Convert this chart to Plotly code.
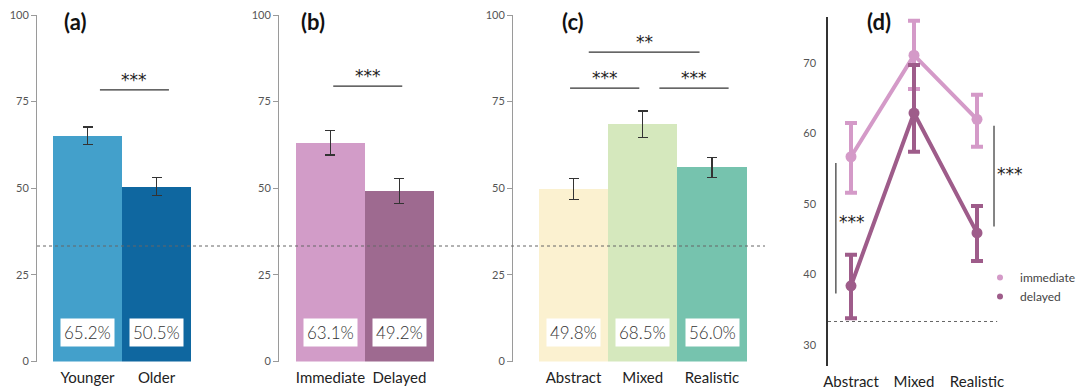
import plotly.graph_objects as go

W, H = 1077, 391

# ---------------- data ----------------
age_groups = ["Younger", "Older"]
age_acc = [65.2, 50.5]
age_err = [2.5, 2.7]
age_colors = ["#43a0cb", "#0f67a0"]

test_times = ["Immediate", "Delayed"]
time_acc = [63.1, 49.2]
time_err = [3.5, 3.5]
time_colors = ["#d29cc8", "#9e6a90"]

styles = ["Abstract", "Mixed", "Realistic"]
style_acc = [49.8, 68.5, 56.0]
style_err = [3.0, 3.8, 2.9]
style_colors = ["#fbf1d0", "#d5e8bd", "#76c3ae"]

imm_acc = [56.7, 71.1, 62.0]
imm_err_plus = [4.8, 4.9, 3.5]
imm_err_minus = [5.1, 4.8, 3.9]
del_acc = [38.4, 62.9, 45.9]
del_err_plus = [4.4, 6.8, 3.8]
del_err_minus = [4.6, 5.5, 4.0]

chance = 100 / 3

# significance brackets: (axis suffix, x0, x1, y, label)
brackets = [
    ("", 0.18, 1.18, 78.4, "***"),
    ("2", 0.04, 1.04, 79.5, "***"),
    ("3", 0.22, 1.82, 89.3, "**"),
    ("3", -0.05, 0.95, 78.9, "***"),
    ("3", 1.24, 2.24, 78.9, "***"),
]
# panel d vertical brackets: (x, y0, y1, text_x, text_y)
vbrackets = [
    (-0.24, 37.3, 55.8, 0.02, 47.9),
    (2.27, 46.8, 61.1, 2.52, 54.7),
]

FONT = "Lato, 'Open Sans', sans-serif"
STAR_FONT = "'DejaVu Sans', sans-serif"
IMM_COLOR = "#d49ac8"
DEL_COLOR = "#9e5c8a"


def px(x):
    return x / W


def py(y):
    return 1 - y / H


fig = go.Figure()

panels = [
    ("x", "y", age_groups, age_acc, age_err, age_colors),
    ("x2", "y2", test_times, time_acc, time_err, time_colors),
    ("x3", "y3", styles, style_acc, style_err, style_colors),
]
for xa, ya, cats, vals, errs, cols in panels:
    fig.add_trace(go.Bar(
        x=list(range(len(cats))), y=vals, width=1,
        marker=dict(color=cols, line=dict(width=0)),
        error_y=dict(type="data", array=errs, color="#333333", thickness=1.2, width=5),
        xaxis=xa, yaxis=ya, showlegend=False, hoverinfo="skip",
    ))
    for i, v in enumerate(vals):
        fig.add_annotation(
            x=i, y=8.5, xref=xa, yref=ya, text=f"{v:.1f}%", showarrow=False,
            font=dict(family=FONT, size=17, color="#333333", weight=300),
            bgcolor="white", borderpad=3,
        )

# panel d lines
xs = [0, 1, 2]
for name, vals, ep, em, col in [("immediate", imm_acc, imm_err_plus, imm_err_minus, IMM_COLOR),
                                ("delayed", del_acc, del_err_plus, del_err_minus, DEL_COLOR)]:
    fig.add_trace(go.Scatter(
        x=xs, y=vals, mode="lines+markers", name=name, showlegend=False,
        line=dict(color=col, width=4), marker=dict(size=11, color=col),
        error_y=dict(type="data", array=ep, arrayminus=em, color=col, thickness=4, width=6),
        xaxis="x4", yaxis="y4", hoverinfo="skip",
    ))
    # legend entry with a small symbol, like the reference
    fig.add_trace(go.Scatter(
        x=[None], y=[None], mode="markers", name=name,
        marker=dict(size=6, color=col, symbol="circle"),
        xaxis="x4", yaxis="y4", hoverinfo="skip",
    ))

# axes
yaxis_bar = dict(
    range=[0, 100], domain=[py(361.5), py(15)], tickvals=[0, 25, 50, 75, 100],
    showline=True, linecolor="#9a9a9a", linewidth=1, ticks="outside", ticklen=5,
    tickcolor="#9a9a9a", tickfont=dict(family=FONT, size=11, color="#555555"),
    showgrid=False, zeroline=False, fixedrange=True,
)
xcommon = dict(showline=False, showgrid=False, zeroline=False, ticks="",
               ticklabelstandoff=5,
               tickfont=dict(family=FONT, size=15, color="#222222"))

fig.update_layout(
    xaxis=dict(domain=[px(37), px(265)], range=[-0.732, 2.572],
               tickvals=[0, 1], ticktext=age_groups, anchor="y", **xcommon),
    yaxis=dict(anchor="x", **yaxis_bar),
    xaxis2=dict(domain=[px(279), px(507)], range=[-0.746, 2.558],
                tickvals=[0, 1], ticktext=test_times, anchor="y2", **xcommon),
    yaxis2=dict(anchor="x2", **yaxis_bar),
    xaxis3=dict(domain=[px(513), px(780)], range=[-0.874, 2.982],
                tickvals=[0, 1, 2], ticktext=styles, anchor="y3", **xcommon),
    yaxis3=dict(anchor="x3", **yaxis_bar),
    xaxis4=dict(domain=[px(828), px(1040)], range=[-0.365, 3.0],
                tickvals=[0, 1, 2], ticktext=styles, anchor="y4", **xcommon),
    yaxis4=dict(domain=[py(366), py(17)], range=[27.02, 76.52], anchor="x4",
                tickvals=[30, 40, 50, 60, 70], showline=True, linecolor="#333333",
                linewidth=1.5, ticks="outside", ticklen=8, tickcolor="rgba(0,0,0,0)",
                tickfont=dict(family=FONT, size=11, color="#555555"),
                showgrid=False, zeroline=False),
)

# chance lines
fig.add_shape(type="line", xref="paper", yref="y", x0=px(37), x1=px(765),
              y0=chance, y1=chance, line=dict(color="#666666", width=1, dash="dot"))
fig.add_shape(type="line", xref="x4", yref="y4", x0=-0.365, x1=2.32,
              y0=chance, y1=chance, line=dict(color="#666666", width=1, dash="dot"))

# significance brackets
for suf, x0, x1, y, lab in brackets:
    fig.add_shape(type="line", xref="x" + suf, yref="y" + suf, x0=x0, x1=x1, y0=y, y1=y,
                  line=dict(color="#333333", width=1.2))
    fig.add_annotation(x=(x0 + x1) / 2, y=y, xref="x" + suf, yref="y" + suf, text=lab,
                       showarrow=False, yanchor="bottom", yshift=-2,
                       font=dict(family=STAR_FONT, size=17, color="#222222"))
for x, y0, y1, tx, ty in vbrackets:
    fig.add_shape(type="line", xref="x4", yref="y4", x0=x, x1=x, y0=y0, y1=y1,
                  line=dict(color="#333333", width=1.2))
    fig.add_annotation(x=tx, y=ty, xref="x4", yref="y4", text="***", showarrow=False,
                       yshift=-3, font=dict(family=STAR_FONT, size=17, color="#222222"))

# panel labels
for lab, xpx in [("(a)", 75), ("(b)", 313), ("(c)", 573), ("(d)", 879)]:
    fig.add_annotation(x=px(xpx), y=py(22), xref="paper", yref="paper", text=f"<b>{lab}</b>",
                       xanchor="center", yanchor="middle",
                       showarrow=False, font=dict(family=FONT, size=22, color="#111111"))

fig.update_layout(
    width=W, height=H, margin=dict(l=0, r=0, t=0, b=0, autoexpand=False),
    paper_bgcolor="white", plot_bgcolor="white", bargap=0,
    legend=dict(x=px(980), y=py(263), xanchor="left", yanchor="top",
                font=dict(family=FONT, size=12, color="#444444"),
                bgcolor="rgba(0,0,0,0)", itemwidth=30, tracegroupgap=0),
    showlegend=True,
)

fig.write_html("out.html", config={"displayModeBar": False},
               post_script="document.body.style.margin='0px';")
